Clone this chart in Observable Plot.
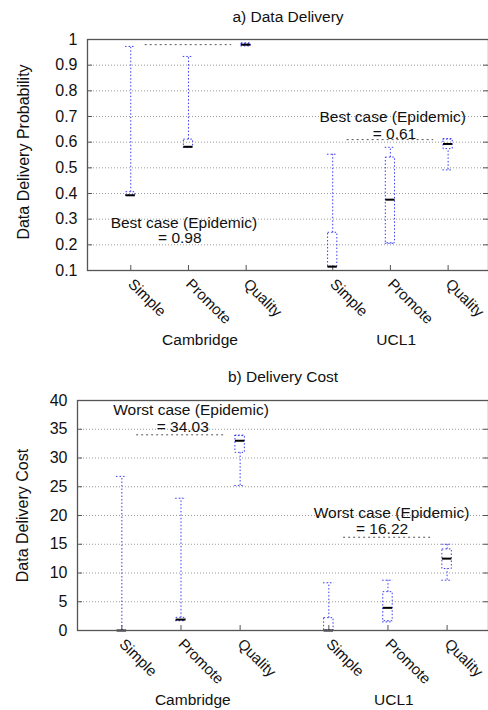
<!DOCTYPE html>
<html>
<head>
<meta charset="utf-8">
<script src="https://cdn.jsdelivr.net/npm/d3@7"></script>
<script src="https://cdn.jsdelivr.net/npm/@observablehq/plot@0.6"></script>
<style>
  html, body { margin: 0; padding: 0; background: #fff; }
  #chart svg { display: block; }
</style>
</head>
<body>
<div id="chart"></div>
<script>
// ---- categories ----
const groups = ["Cambridge", "UCL1"];
const methods = ["Simple", "Promote", "Quality", "Simple", "Promote", "Quality"];
const slots = [1, 2, 3, 4.5, 5.5, 6.5];
const groupLabelX = [2.2, 5.6];
const refFrom = [1.25, 4.75];
const refTo = [2.75, 6.25];

// ---- a) Data Delivery probability ----
const delivMin = [0.393, 0.58, 0.975, 0.115, 0.206, 0.492];
const delivQ1  = [0.393, 0.58, 0.975, 0.115, 0.206, 0.573];
const delivMed = [0.393, 0.582, 0.98, 0.115, 0.376, 0.593];
const delivQ3  = [0.405, 0.61, 0.985, 0.247, 0.54, 0.612];
const delivMax = [0.973, 0.934, 0.985, 0.553, 0.58, 0.612];
const delivBest = [0.98, 0.61];
const delivBestLabel = ["0.98", "0.61"];
const delivNoteX1 = [1.92, 5.54];
const delivNoteY1 = [0.285, 0.699];
const delivNoteX2 = [1.85, 5.57];
const delivNoteY2 = [0.225, 0.632];
const delivTicks = [0.1, 0.2, 0.3, 0.4, 0.5, 0.6, 0.7, 0.8, 0.9, 1];
const delivTickLabels = ["0.1", "0.2", "0.3", "0.4", "0.5", "0.6", "0.7", "0.8", "0.9", "1"];

// ---- b) Delivery cost ----
const costMin = [0, 1.7, 25.2, 0, 1.5, 8.75];
const costQ1  = [0, 1.7, 30.9, 0, 1.62, 10.7];
const costMed = [0, 1.9, 33.0, 0, 3.94, 12.5];
const costQ3  = [0, 2.2, 33.9, 2.15, 6.67, 14.1];
const costMax = [26.8, 23.0, 33.9, 8.3, 8.75, 15.0];
const costWorst = [34.03, 16.22];
const costWorstLabel = ["34.03", "16.22"];
const costNoteX1 = [2.17, 5.56];
const costNoteY1 = [38.4, 20.4];
const costNoteX2 = [2.03, 5.40];
const costNoteY2 = [35.3, 17.6];
const costTicks = [0, 5, 10, 15, 20, 25, 30, 35, 40];
const costTickLabels = ["0", "5", "10", "15", "20", "25", "30", "35", "40"];

const FONT = "'Liberation Sans', Arial, Helvetica, sans-serif";
const BLUE = "#3a3af5";
const HALF = 0.08;
const CAP = 0.09;
const FS = 15.5;
const FS_CAT = 15;
const FS_AXIS = 16;

function panel(cfg) {
  const W = 488;
  const plotW = W - cfg.marginLeft - cfg.marginRight;
  const plotH = cfg.height - cfg.marginTop - cfg.marginBottom;
  const rows = slots.map((x, i) => ({
    x, method: methods[i],
    min: cfg.min[i], q1: cfg.q1[i], med: cfg.med[i], q3: cfg.q3[i], max: cfg.max[i]
  }));
  const refs = groups.map((g, i) => ({
    from: refFrom[i], to: refTo[i], y: cfg.ref[i],
    t1: cfg.refText, x1: cfg.noteX1[i], y1: cfg.noteY1[i],
    t2: "= " + cfg.refLabel[i], x2: cfg.noteX2[i], y2: cfg.noteY2[i]
  }));
  const gl = groups.map((g, i) => ({ g, x: groupLabelX[i] }));
  const inner = cfg.ticks.slice(1, -1);
  const dash = "1.5,2";
  return Plot.plot({
    width: W,
    height: cfg.height,
    marginTop: cfg.marginTop,
    marginBottom: cfg.marginBottom,
    marginLeft: cfg.marginLeft,
    marginRight: cfg.marginRight,
    style: { fontFamily: FONT, fontSize: FS + "px", color: "#111", background: "#fff" },
    x: { domain: [0.25, 7.2], axis: null },
    y: { domain: cfg.domain, axis: null },
    marks: [
      // grid
      Plot.ruleY(inner, { y: d => d, stroke: "#9a9a9a", strokeDasharray: "1,2", strokeWidth: 1 }),
      // tick labels
      Plot.axisY(cfg.ticks, {
        tickSize: 0, tickPadding: 10, label: null, fontSize: FS_AXIS,
        tickFormat: d => cfg.tickLabels[cfg.ticks.indexOf(d)]
      }),
      // inward ticks
      Plot.tickY(cfg.ticks, { y: d => d, insetRight: plotW - 5, stroke: "#555" }),
      Plot.tickY(cfg.ticks, { y: d => d, insetLeft: plotW - 5, stroke: "#555" }),
      Plot.tickX(slots, { x: d => d, insetTop: plotH - 5, stroke: "#555" }),
      // reference lines
      Plot.ruleY(refs, { y: "y", x1: "from", x2: "to", stroke: "#555", strokeDasharray: "2,3", strokeWidth: 1 }),
      // whiskers
      Plot.ruleX(rows, { x: "x", y1: "min", y2: "q1", stroke: BLUE, strokeDasharray: dash }),
      Plot.ruleX(rows, { x: "x", y1: "q3", y2: "max", stroke: BLUE, strokeDasharray: dash }),
      Plot.ruleY(rows, { y: "max", x1: d => d.x - CAP, x2: d => d.x + CAP, stroke: BLUE, strokeDasharray: dash }),
      Plot.ruleY(rows, { y: "min", x1: d => d.x - CAP, x2: d => d.x + CAP, stroke: BLUE, strokeDasharray: dash }),
      // boxes
      Plot.rect(rows, { x1: d => d.x - HALF, x2: d => d.x + HALF, y1: "q1", y2: "q3", fill: "none", stroke: BLUE, strokeDasharray: dash }),
      // medians
      Plot.ruleY(rows, { y: "med", x1: d => d.x - HALF, x2: d => d.x + HALF, stroke: "#000", strokeWidth: 2 }),
      // frame
      Plot.frame({ stroke: "#555", strokeWidth: 1.3 }),
      // annotations
      Plot.text(refs, { x: "x1", y: "y1", text: "t1", fontSize: FS, fill: "#111" }),
      Plot.text(refs, { x: "x2", y: "y2", text: "t2", fontSize: FS, fill: "#111" }),
      // category labels
      Plot.text(rows, { x: "x", text: "method", frameAnchor: "bottom", rotate: 45, textAnchor: "start", lineAnchor: "middle", dy: 11, dx: 0, fontSize: FS_CAT, fill: "#111" }),
      // group labels
      Plot.text(gl, { x: "x", text: "g", frameAnchor: "bottom", dy: 70, lineAnchor: "middle", fontSize: FS, fill: "#111" }),
      // title
      Plot.text([cfg.title], { text: d => d, frameAnchor: "top", dy: cfg.titleDy, lineAnchor: "middle", fontSize: FS, fill: "#111" }),
      // y label
      Plot.text([cfg.ylabel], { text: d => d, frameAnchor: "left", rotate: -90, dx: cfg.ylabelDx, dy: cfg.ylabelDy, textAnchor: "middle", lineAnchor: "middle", fontSize: FS_AXIS, fill: "#111" })
    ]
  });
}

const chart = document.getElementById("chart");
chart.appendChild(panel({
  height: 360, marginTop: 39, marginBottom: 90, marginLeft: 87, marginRight: 0,
  domain: [0.1, 1], ticks: delivTicks, tickLabels: delivTickLabels,
  min: delivMin, q1: delivQ1, med: delivMed, q3: delivQ3, max: delivMax,
  ref: delivBest, refLabel: delivBestLabel, refText: "Best case (Epidemic)",
  noteX1: delivNoteX1, noteY1: delivNoteY1, noteX2: delivNoteX2, noteY2: delivNoteY2,
  title: "a) Data Delivery", titleDy: -22,
  ylabel: "Data Delivery Probability", ylabelDx: -64, ylabelDy: -3
}));
chart.appendChild(panel({
  height: 350, marginTop: 40, marginBottom: 80, marginLeft: 77, marginRight: 0,
  domain: [0, 40], ticks: costTicks, tickLabels: costTickLabels,
  min: costMin, q1: costQ1, med: costMed, q3: costQ3, max: costMax,
  ref: costWorst, refLabel: costWorstLabel, refText: "Worst case (Epidemic)",
  noteX1: costNoteX1, noteY1: costNoteY1, noteX2: costNoteX2, noteY2: costNoteY2,
  title: "b) Delivery Cost", titleDy: -23,
  ylabel: "Data Delivery Cost", ylabelDx: -54.5, ylabelDy: 0
}));
</script>
</body>
</html>
